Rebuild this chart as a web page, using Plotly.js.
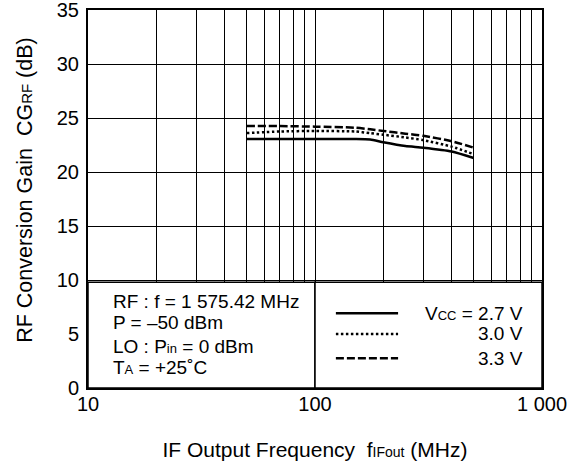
<!DOCTYPE html>
<html>
<head>
<meta charset="utf-8">
<script src="https://cdn.plot.ly/plotly-3.0.1.min.js"></script>
<style>
  html, body { margin: 0; padding: 0; background: #fff; }
  #chart { width: 575px; height: 467px; }
</style>
</head>
<body>
<div id="chart"></div>
<script>
// IF output frequency (MHz) and RF conversion gain (dB) per supply voltage
const freqMHz = [50, 70, 100, 150, 175, 200, 250, 300, 400, 500];
const gainVcc27 = [23.05, 23.05, 23.05, 23.05, 23.0, 22.75, 22.4, 22.25, 21.9, 21.3];
const gainVcc30 = [23.6, 23.75, 23.8, 23.75, 23.6, 23.45, 23.2, 22.95, 22.35, 21.65];
const gainVcc33 = [24.25, 24.25, 24.2, 24.1, 23.95, 23.8, 23.55, 23.35, 22.85, 22.25];

const seriesNames = ['V<span style="font-size:13px">CC</span> = 2.7 V', '3.0 V', '3.3 V'];
const seriesDash = ['solid', '2.5px,2.5px', '8px,3px'];

// Log-axis grid: a line at every 1-9 multiple of each decade
const xGridVals = [10, 20, 30, 40, 50, 60, 70, 80, 90, 100, 200, 300, 400, 500, 600, 700, 800, 900, 1000];
const xTickText = xGridVals.map(v => v === 10 ? '10' : v === 100 ? '100' : v === 1000 ? '1 000' : '');

const conditionLines = [
  'RF : f = 1 575.42 MHz',
  'P = \u201350 dBm',
  'LO : P<span style="font-size:13px">in</span> = 0 dBm',
  'T<span style="font-size:13px">A</span> = +25\u02DAC'
];

const yTitle = 'RF Conversion Gain  CG<span style="font-size:15px">RF</span> (dB)';
const xTitle = 'IF Output Frequency  f<span style="font-size:14px">IFout</span> (MHz)';

const FONT = '"Liberation Sans", Arial, sans-serif';

const traces = [gainVcc27, gainVcc30, gainVcc33].map((g, i) => ({
  x: freqMHz,
  y: g,
  type: 'scatter',
  mode: 'lines',
  line: { color: '#000', width: 2.5, dash: seriesDash[i], shape: 'spline', smoothing: 0.6 },
  name: seriesNames[i],
  showlegend: false,
  hoverinfo: 'x+y'
}));

// Plot-area fractions for the two boxed panels along the bottom
const boxTop = 0.28;
const shapes = [
  { type: 'rect', xref: 'paper', yref: 'paper', x0: 0, x1: 0.5, y0: 0, y1: boxTop,
    fillcolor: '#fff', line: { color: '#000', width: 1.5 }, layer: 'above' },
  { type: 'rect', xref: 'paper', yref: 'paper', x0: 0.5, x1: 1, y0: 0, y1: boxTop,
    fillcolor: '#fff', line: { color: '#000', width: 1.5 }, layer: 'above' }
];

// Key: line samples with right-aligned labels
const keyRows = [0.198, 0.143, 0.079];
keyRows.forEach((yy, i) => {
  shapes.push({ type: 'line', xref: 'paper', yref: 'paper', x0: 0.546, x1: 0.683, y0: yy, y1: yy,
    line: { color: '#000', width: 2.5, dash: seriesDash[i] }, layer: 'above' });
});

const annotations = [];
keyRows.forEach((yy, i) => {
  annotations.push({ xref: 'paper', yref: 'paper', x: 0.962, y: yy, xanchor: 'right', yanchor: 'middle',
    text: seriesNames[i], showarrow: false, font: { family: FONT, size: 19, color: '#000' } });
});

const condRows = [0.230, 0.172, 0.111, 0.053];
conditionLines.forEach((t, i) => {
  annotations.push({ xref: 'paper', yref: 'paper', x: 0.05, y: condRows[i], xanchor: 'left', yanchor: 'middle',
    text: t, showarrow: false, font: { family: FONT, size: 19, color: '#000' } });
});

// Vertical axis title, set slightly above the plot-area centre
annotations.push({ xref: 'paper', yref: 'paper', x: -0.139, y: 0.524, xanchor: 'center', yanchor: 'middle',
  textangle: -90, text: yTitle, showarrow: false, font: { family: FONT, size: 21.5, color: '#000' } });

const layout = {
  width: 575,
  height: 467,
  margin: { l: 88, r: 33, t: 10, b: 79 },
  paper_bgcolor: '#fff',
  plot_bgcolor: '#fff',
  font: { family: FONT, size: 20, color: '#000' },
  showlegend: false,
  xaxis: {
    type: 'log',
    range: [1, 3],
    tickvals: xGridVals,
    ticktext: xTickText,
    ticks: 'outside',
    ticklen: 1,
    ticklabelstandoff: -4,
    tickcolor: 'rgba(0,0,0,0)',
    showgrid: true,
    gridcolor: '#000',
    gridwidth: 1,
    showline: true,
    linecolor: '#000',
    linewidth: 2,
    mirror: true,
    zeroline: false,
    tickfont: { family: FONT, size: 20 },
    title: {
      text: xTitle,
      font: { family: FONT, size: 21 },
      standoff: 28
    }
  },
  yaxis: {
    range: [0, 35],
    dtick: 5,
    ticks: 'outside',
    ticklen: 3,
    tickcolor: 'rgba(0,0,0,0)',
    ticklabeloverflow: 'allow',
    showgrid: true,
    gridcolor: '#000',
    gridwidth: 1,
    showline: true,
    linecolor: '#000',
    linewidth: 2,
    mirror: true,
    zeroline: false,
    tickfont: { family: FONT, size: 20 }
  },
  shapes: shapes,
  annotations: annotations
};

Plotly.newPlot('chart', traces, layout, { displayModeBar: false, staticPlot: true });
</script>
</body>
</html>
